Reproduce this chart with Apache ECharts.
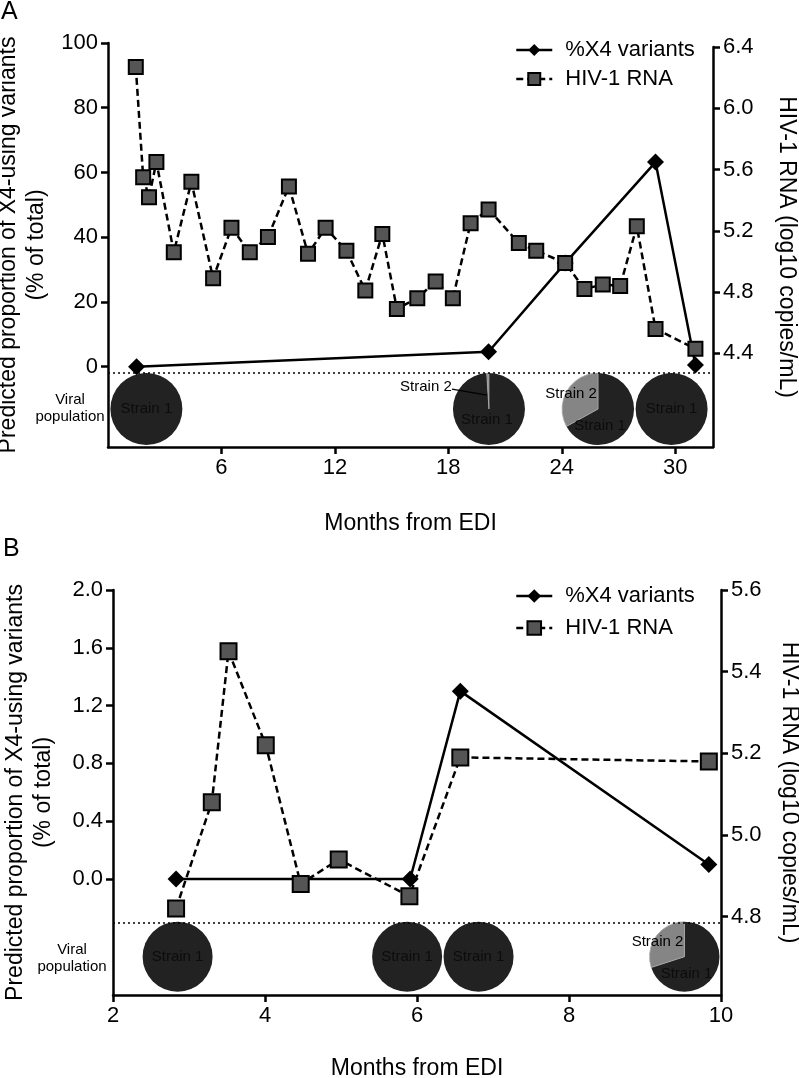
<!DOCTYPE html>
<html><head><meta charset="utf-8">
<script src="https://cdn.jsdelivr.net/npm/echarts@6/dist/echarts.min.js"></script>
<style>html,body{margin:0;padding:0;background:#fff}#c{width:799px;height:1078px}</style>
</head><body><div id="c"></div>
<script>
// ---------- Panel A data ----------
const monthsA_X4 = [1.51, 20.13, 24.18, 28.96, 31.07];
const x4A = [0, 4.6, 32.0, 63.2, 0.5];
const monthsA_RNA = [1.47, 1.86, 2.17, 2.56, 3.48, 4.41, 5.56, 6.53, 7.50, 8.46, 9.57, 10.58, 11.51, 12.61, 13.61, 14.51, 15.28, 16.36, 17.33, 18.24, 19.18, 20.13, 21.73, 22.65, 24.18, 25.20, 26.17, 27.09, 27.97, 28.96, 31.07];
const rnaA = [6.27, 5.55, 5.42, 5.65, 5.06, 5.52, 4.89, 5.22, 5.06, 5.16, 5.49, 5.05, 5.22, 5.07, 4.81, 5.18, 4.69, 4.76, 4.87, 4.76, 5.25, 5.34, 5.12, 5.07, 4.99, 4.82, 4.85, 4.84, 5.23, 4.56, 4.43];
const pieMonthsA = [2.03, 20.15, 25.92, 29.81];
const pieStrain2A = [0, 1, 33, 0];
const xTicksA = [6, 12, 18, 24, 30];
const yLeftTicksA = [0, 20, 40, 60, 80, 100];
const yRightTicksA = [4.4, 4.8, 5.2, 5.6, 6.0, 6.4];

// ---------- Panel B data ----------
const monthsB_X4 = [2.83, 5.91, 6.57, 9.84];
const x4B = [0, 0, 1.30, 0.10];
const monthsB_RNA = [2.83, 3.30, 3.52, 4.01, 4.47, 4.97, 5.90, 6.57, 9.84];
const rnaB = [4.82, 5.08, 5.45, 5.22, 4.88, 4.94, 4.85, 5.19, 5.18];
const pieMonthsB = [2.85, 5.87, 6.81, 9.52];
const pieStrain2B = [0, 0, 0, 30];
const xTicksB = [2, 4, 6, 8, 10];
const yLeftTicksB = [0, 0.4, 0.8, 1.2, 1.6, 2.0];
const yRightTicksB = [4.8, 5.0, 5.2, 5.4, 5.6];

const seriesNames = { x4A: '%X4 variants', rnaA: 'HIV-1 RNA', x4B: '%X4 variants', rnaB: 'HIV-1 RNA' };

const FONT = 'Liberation Sans, Arial, sans-serif';
const zip = (a, b) => a.map((v, i) => [v, b[i]]);

function axisCommon(ticks, fmt) {
  return {
    axisLine: { show: true, onZero: false, lineStyle: { color: '#000', width: 2.5 } },
    axisTick: { show: true, customValues: ticks, length: 7, lineStyle: { color: '#000', width: 2.5 } },
    axisLabel: { show: true, customValues: ticks, color: '#000', fontSize: 22, fontFamily: FONT, margin: 10,
      formatter: fmt || (v => String(v)) },
    splitLine: { show: false }
  };
}
const fmt1 = v => Number(v).toFixed(1);
const nameStyle = { color: '#000', fontSize: 23, fontFamily: FONT, lineHeight: 28 };

function makePieRender(level, radius) {
  return function (params, api) {
    const c = api.coord([api.value(0), level]);
    const cx = c[0], cy = c[1];
    const f = api.value(1) / 100;
    const top = -Math.PI / 2;
    const children = [];
    const txt = (t, x, y, fill) => ({ type: 'text', style: { text: t, x: x, y: y, align: 'center', verticalAlign: 'middle', font: '15px ' + FONT, fill: fill } });
    if (f <= 0) {
      children.push({ type: 'circle', shape: { cx, cy, r: radius }, style: { fill: '#222' } });
      children.push(txt('Strain 1', cx, cy, '#0c0c0c'));
    } else {
      const end1 = top + (1 - f) * 2 * Math.PI;
      children.push({ type: 'sector', shape: { cx, cy, r: radius, r0: 0, startAngle: top, endAngle: end1, clockwise: true }, style: { fill: '#222' } });
      children.push({ type: 'sector', shape: { cx, cy, r: radius, r0: 0, startAngle: end1, endAngle: top + 2 * Math.PI, clockwise: true }, style: { fill: '#858585', stroke: '#aaa', lineWidth: 0.8 } });
      if (f < 0.05) {
        children.push(txt('Strain 1', cx - 2, cy + 11, '#0c0c0c'));
        children.push(txt('Strain 2', cx - 63, cy - 22, '#000'));
        children.push({ type: 'polyline', shape: { points: [[cx - 37, cy - 20], [cx - 2, cy - 14]] }, style: { stroke: '#000', lineWidth: 1.2, fill: null } });
      } else {
        children.push(txt('Strain 2', cx - 27, cy - 15, '#000'));
        children.push(txt('Strain 1', cx + 2, cy + 17, '#0c0c0c'));
      }
    }
    return { type: 'group', children };
  };
}

const lineX4 = (name, xi, yi, data, yDot) => ({
  name, type: 'line', xAxisIndex: xi, yAxisIndex: yi, data,
  symbol: 'diamond', symbolSize: 17, z: 3,
  itemStyle: { color: '#000' }, lineStyle: { color: '#000', width: 2.5 },
  markLine: { silent: true, symbol: 'none', label: { show: false },
    lineStyle: { color: '#000', width: 1.5, type: [2, 3] }, data: [{ yAxis: yDot }] }
});
const lineRNA = (name, xi, yi, data, size) => ({
  name, type: 'line', xAxisIndex: xi, yAxisIndex: yi, data,
  symbol: 'rect', symbolSize: size, z: 4,
  itemStyle: { color: '#555', borderColor: '#000', borderWidth: 2 },
  lineStyle: { color: '#000', width: 2.5, type: [7, 4] }
});

const gridBase = { outerBoundsMode: 'none', containLabel: false };
const legendBase = { orient: 'vertical', left: 510, itemWidth: 36, formatter: n => seriesNames[n],
  lineStyle: { width: 2.5 }, textStyle: { color: '#000', fontSize: 22, fontFamily: FONT, padding: [0, 0, 0, 8] } };

const chart = echarts.init(document.getElementById('c'), null, { renderer: 'canvas' });
chart.setOption({
  animation: false,
  backgroundColor: '#fff',
  textStyle: { fontFamily: FONT },
  grid: [
    Object.assign({ left: 108, right: 86, top: 43, height: 404 }, gridBase),
    Object.assign({ left: 108, right: 86, top: 47, height: 400 }, gridBase),
    Object.assign({ left: 113, right: 78, top: 590, height: 405 }, gridBase)
  ],
  xAxis: [
    Object.assign({ type: 'value', gridIndex: 0, min: 0, max: 32, name: 'Months from EDI', nameLocation: 'middle', nameGap: 63, nameTextStyle: nameStyle }, axisCommon(xTicksA)),
    { type: 'value', gridIndex: 1, min: 0, max: 32, show: false },
    Object.assign({ type: 'value', gridIndex: 2, min: 2, max: 10, name: 'Months from EDI', nameLocation: 'middle', nameGap: 60, nameTextStyle: nameStyle }, axisCommon(xTicksB))
  ],
  yAxis: [
    Object.assign({ type: 'value', gridIndex: 0, position: 'left', min: -24.83, max: 100,
      name: 'Predicted proportion of X4-using variants\n(% of total)', nameLocation: 'middle', nameRotate: 90, nameGap: 50, nameTextStyle: nameStyle }, axisCommon(yLeftTicksA)),
    Object.assign({ type: 'value', gridIndex: 1, position: 'right', min: 3.789, max: 6.4,
      name: 'HIV-1 RNA (log10 copies/mL)', nameLocation: 'middle', nameRotate: -90, nameGap: 59, nameTextStyle: nameStyle }, axisCommon(yRightTicksA, fmt1)),
    Object.assign({ type: 'value', gridIndex: 2, position: 'left', min: -0.803, max: 2.0,
      name: 'Predicted proportion of X4-using variants\n(% of total)', nameLocation: 'middle', nameRotate: 90, nameGap: 55, nameTextStyle: nameStyle }, axisCommon(yLeftTicksB, fmt1)),
    Object.assign({ type: 'value', gridIndex: 2, position: 'right', min: 4.608, max: 5.6,
      name: 'HIV-1 RNA (log10 copies/mL)', nameLocation: 'middle', nameRotate: -90, nameGap: 54, nameTextStyle: nameStyle }, axisCommon(yRightTicksB, fmt1))
  ],
  legend: [
    Object.assign({ data: ['x4A', 'rnaA'], top: 34, itemHeight: 15, itemGap: 7 }, legendBase),
    Object.assign({ data: ['x4B', 'rnaB'], top: 580, itemHeight: 17, itemGap: 10 }, legendBase)
  ],
  graphic: [
    { type: 'text', x: 1, y: 12, style: { text: 'A', font: '25px ' + FONT, fill: '#000', align: 'left', verticalAlign: 'middle' } },
    { type: 'text', x: 3, y: 549, style: { text: 'B', font: '25px ' + FONT, fill: '#000', align: 'left', verticalAlign: 'middle' } },
    { type: 'text', x: 70, y: 408, style: { text: 'Viral\npopulation', font: '15px ' + FONT, lineHeight: 17, fill: '#000', align: 'center', verticalAlign: 'middle' } },
    { type: 'text', x: 72, y: 958, style: { text: 'Viral\npopulation', font: '15px ' + FONT, lineHeight: 17, fill: '#000', align: 'center', verticalAlign: 'middle' } }
  ],
  series: [
    { name: 'piesA', type: 'custom', xAxisIndex: 0, yAxisIndex: 0, clip: false, z: 1, silent: true,
      data: zip(pieMonthsA, pieStrain2A), renderItem: makePieRender(-13.1, 36) },
    lineX4('x4A', 0, 0, zip(monthsA_X4, x4A), -1.86),
    lineRNA('rnaA', 1, 1, zip(monthsA_RNA, rnaA), 14),
    { name: 'piesB', type: 'custom', xAxisIndex: 2, yAxisIndex: 2, clip: false, z: 1, silent: true,
      data: zip(pieMonthsB, pieStrain2B), renderItem: makePieRender(-0.538, 35) },
    lineX4('x4B', 2, 2, zip(monthsB_X4, x4B), -0.30),
    lineRNA('rnaB', 2, 3, zip(monthsB_RNA, rnaB), 16)
  ]
});
</script>
</body></html>
